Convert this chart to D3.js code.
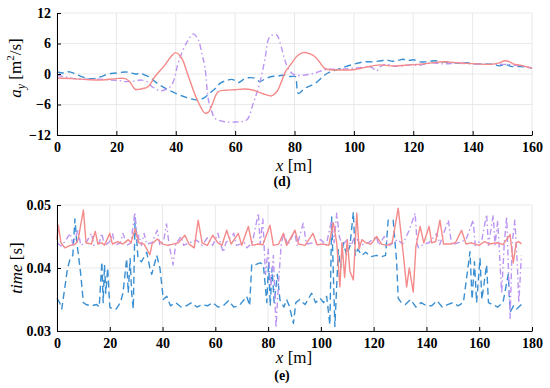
<!DOCTYPE html>
<html><head><meta charset="utf-8">
<script src="https://cdn.jsdelivr.net/npm/d3@7"></script>
<style>html,body{margin:0;padding:0;background:#fff}svg{display:block}</style>
</head><body><svg id="c" width="550" height="388"></svg>
<script>
// ---------- DATA ----------
const xTicksTop = [0,20,40,60,80,100,120,140,160];
const yTicksTop = [-12,-6,0,6,12];
const xTicksBot = [0,20,40,60,80,100,120,140,160,180];
const yTicksBot = [0.03,0.04,0.05];
const yTickLabelsBot = ["0.03","0.04","0.05"];

const ayRed = [[0,-0.8],[5,-0.9],[10,-1.1],[15,-1.2],[20,-0.9],[23,-0.9],[24.5,-1.5],[26.3,-3.0],[28.5,-2.9],[30.7,-2.5],[33,-0.5],[36.4,1.8],[38.5,3.5],[40,4.2],[42,3.1],[44,0],[46.5,-4.1],[48.5,-6.6],[49.8,-7.7],[51,-7.5],[52,-6.4],[54.3,-3.5],[57,-3.2],[60,-3.1],[63.3,-2.95],[65.5,-3.1],[67.7,-3.5],[70,-4.0],[72.3,-4.3],[74,-3.5],[75.6,-1.5],[77,0.5],[79,2.1],[81,3.6],[82.9,4.2],[85,4.0],[86.9,3.4],[88.5,2.3],[90.2,1.1],[92.5,0.8],[96,0.8],[99.2,0.8],[103.7,1.3],[108.8,1.8],[113,1.6],[118.9,1.8],[125,2.1],[130,2.4],[135,2.2],[141.3,2.0],[146,1.9],[149,2.2],[150.8,2.6],[152.5,2.4],[153.6,2.0],[157,1.6],[160,1.1]];
const ayBlue = [[0,0.45],[2,0.2],[3.8,0.45],[6,0.1],[8.3,-0.5],[10.5,-0.9],[12.8,-0.85],[15,-0.5],[17.2,0],[20,0.2],[22.9,0.4],[24.5,0.3],[26.3,0],[28,0.1],[29.6,-0.2],[31.5,-0.7],[33,-1.5],[36.4,-2.8],[40,-3.8],[43.5,-4.6],[46,-5.0],[48,-5.1],[49.8,-4.6],[51.4,-3.8],[53.6,-2.7],[55,-1.8],[57,-1.3],[58.8,-1.05],[60,-1.3],[61,-1.7],[62.5,-1.2],[63.3,-0.85],[66.6,-0.8],[68.3,-1.5],[70,-1.0],[72.3,-0.5],[74.5,-0.4],[76.8,-0.2],[78.5,-0.5],[80.2,-0.5],[81.3,-3.8],[83.5,-2.8],[86.9,-1.85],[90.2,-0.2],[92,0.4],[94.7,0.9],[97,1.4],[99.2,1.8],[101,2.1],[103.7,2.4],[106.5,2.4],[109,2.6],[111,2.75],[113,2.5],[115,2.7],[116.6,2.9],[118,2.6],[120,2.8],[122,2.4],[124.5,2.4],[127,2.6],[130,2.4],[133,2.3],[135.7,2.1],[138,2.2],[141,2.0],[144,2.0],[146.8,1.9],[149,1.6],[151,1.9],[153,1.5],[155.6,1.45],[158,1.4],[160,1.1]];
const ayPurple = [[0,-0.3],[3,-0.6],[6,-0.9],[10.5,-1.0],[14,-1.0],[18.4,-1.2],[21,-1.3],[23.5,-1.5],[26,-1.4],[28.5,-1.2],[30.5,-1.6],[32,-2.5],[33,-2.8],[34.5,-3.3],[36.4,-3.1],[38.6,-2.2],[40.8,2.1],[42.5,4.8],[44.2,6.7],[45.9,7.9],[47.6,6.7],[48.8,4],[49.8,1.45],[51,-5.1],[52,-7.1],[53.2,-8.7],[56.6,-9.4],[61,-9.4],[63.9,-9.05],[66.1,-5.8],[68.4,-1.5],[70,2.75],[71.7,7.35],[74,7.7],[75,6.4],[77.3,1.8],[78.5,0.5],[80.1,-0.2],[83.5,-0.2],[86.9,0.2],[90.8,0.9],[94.7,0.9],[99,1.1],[103.7,1.3],[106,1.3],[107.6,0.6],[109,1.5],[111,1.9],[114,1.5],[118.9,1.8],[122,1.7],[126,2.2],[130,2.0],[135,2.1],[140,2.0],[145,1.9],[150,1.9],[155,1.7],[160,1.2]];

const timeRed = [[0,0.0445],[0.5,0.0468],[1.5,0.0440],[3,0.0432],[5,0.0436],[7,0.0438],[8,0.0445],[10,0.0492],[11,0.0440],[13,0.0438],[14.5,0.0458],[15.5,0.0438],[17,0.0440],[18,0.0436],[20,0.0455],[21,0.0438],[23,0.0442],[25,0.0438],[27,0.0445],[28,0.0440],[29.6,0.0462],[31,0.0440],[33,0.0438],[35.2,0.0421],[36,0.0438],[38,0.0446],[40,0.0438],[42,0.0436],[44,0.0438],[46,0.0440],[48.5,0.0452],[50,0.0438],[52,0.0432],[53.5,0.0476],[55,0.0440],[57,0.0436],[59,0.0452],[61,0.0440],[62.5,0.0436],[64.3,0.0460],[66,0.0438],[68.7,0.0455],[70,0.0436],[72.5,0.0466],[74,0.0436],[76,0.0438],[78,0.0437],[80.7,0.0468],[82,0.0436],[84,0.0438],[85.8,0.0455],[87,0.0436],[90.2,0.0460],[91.5,0.0438],[94,0.0436],[97,0.0455],[98.5,0.0437],[101,0.0438],[103,0.0436],[104.7,0.0472],[106,0.0440],[107.2,0.0370],[108,0.0440],[109,0.0385],[110,0.0445],[111,0.0395],[112.3,0.0381],[113.6,0.0487],[114.5,0.0430],[115.5,0.0445],[117,0.0440],[119,0.0438],[121.1,0.0450],[123,0.0438],[125,0.0436],[127,0.0440],[129.3,0.0495],[131.2,0.0423],[132.5,0.0370],[133.5,0.0400],[135,0.0362],[136,0.0434],[137.6,0.0466],[139,0.0440],[141,0.0466],[142,0.0440],[143.5,0.0442],[145.1,0.0476],[146.5,0.0438],[149,0.0438],[151,0.0440],[153.3,0.0460],[155,0.0438],[157,0.0440],[160,0.0436],[162,0.0442],[164,0.0438],[167,0.0440],[169,0.0437],[171.7,0.0453],[172.9,0.0408],[174,0.0440],[175,0.0442],[176,0.0438]];
const timeBlue = [[0,0.0352],[1,0.0345],[1.8,0.0335],[3,0.0370],[4,0.0400],[5,0.0415],[6,0.0420],[6.8,0.0478],[7.5,0.0440],[8,0.0425],[9,0.0390],[10,0.0345],[11,0.0342],[13,0.0340],[15,0.0342],[16,0.0338],[17,0.0410],[17.5,0.0345],[18,0.0405],[18.5,0.0360],[19.2,0.0400],[20,0.0338],[21,0.0335],[22.5,0.0335],[24,0.0345],[25,0.0360],[26.4,0.0415],[27,0.0360],[27.7,0.0415],[28.3,0.0360],[28.9,0.0335],[29.6,0.0480],[30.7,0.0415],[32,0.0410],[34,0.0425],[35.2,0.0400],[35.9,0.0390],[37.8,0.0420],[39,0.0400],[40.3,0.0350],[41.6,0.0355],[43,0.0340],[45,0.0345],[47,0.0338],[49,0.0340],[51,0.0345],[53,0.0338],[55,0.0342],[57,0.0340],[59,0.0345],[61,0.0338],[63,0.0340],[65,0.0348],[67,0.0338],[69,0.0340],[71.9,0.0355],[73,0.0340],[73.8,0.0406],[75,0.0405],[77,0.0408],[78.2,0.0405],[79.5,0.0345],[80.2,0.0410],[80.8,0.0340],[81.5,0.0400],[82.3,0.0345],[83.5,0.0390],[84.5,0.0349],[86,0.0338],[87,0.0350],[88,0.0340],[89.6,0.0312],[90.5,0.0345],[92,0.0350],[94,0.0342],[96.5,0.0360],[98,0.0345],[99.7,0.0352],[101,0.0345],[102.2,0.0355],[103.4,0.0310],[104.1,0.0481],[105.3,0.0307],[106.6,0.0429],[107.5,0.0400],[108.5,0.0440],[109.8,0.0420],[111,0.0435],[112.3,0.0489],[113,0.0420],[114,0.0430],[115.5,0.0420],[117,0.0425],[119,0.0418],[121.1,0.0420],[123,0.0418],[124.5,0.0420],[125.5,0.0476],[127.4,0.0476],[128.7,0.0410],[129.3,0.0352],[130.5,0.0345],[132,0.0342],[134,0.0350],[136,0.0338],[138,0.0345],[140,0.0340],[142,0.0340],[144,0.0348],[146,0.0338],[148,0.0342],[150,0.0345],[152,0.0340],[154,0.0345],[156.5,0.0426],[157.3,0.0350],[158.2,0.0410],[159,0.0345],[160.3,0.0415],[161,0.0350],[162.8,0.0405],[163.5,0.0345],[165,0.0342],[167,0.0338],[169,0.0345],[171,0.0390],[171.7,0.0330],[173,0.0340],[174.2,0.0335],[176,0.0342]];
const timePurple = [[0,0.0440],[1.5,0.0435],[3,0.0442],[5,0.0455],[6,0.0438],[8,0.0460],[9,0.0436],[11,0.0440],[13,0.0455],[14,0.0436],[16,0.0440],[17,0.0455],[18,0.0435],[20,0.0442],[21,0.0455],[22,0.0436],[24,0.0440],[25,0.0455],[26.5,0.0436],[28,0.0440],[29.5,0.0488],[30.5,0.0440],[31,0.0452],[32,0.0436],[33,0.0455],[34,0.0438],[36,0.0440],[38,0.0460],[39,0.0436],[40.5,0.0445],[41.5,0.0470],[42.5,0.0436],[44,0.0405],[45,0.0438],[47,0.0450],[48,0.0436],[50,0.0440],[53,0.0444],[55,0.0436],[57,0.0448],[59,0.0436],[61,0.0455],[62,0.0438],[63,0.0425],[64,0.0440],[67,0.0455],[68,0.0436],[71,0.0440],[72,0.0432],[74,0.0440],[76.3,0.0487],[77,0.0438],[78,0.0478],[79,0.0390],[80,0.0430],[81,0.0370],[82,0.0420],[83,0.0305],[84,0.0380],[85,0.0440],[86,0.0455],[87.5,0.0436],[90,0.0458],[91,0.0436],[93.3,0.0471],[94.5,0.0438],[97,0.0440],[100,0.0445],[102,0.0436],[104,0.0475],[105,0.0440],[106,0.0487],[107,0.0450],[108,0.0436],[110,0.0445],[111.5,0.0436],[113,0.0452],[115,0.0436],[118,0.0440],[121,0.0450],[122,0.0436],[124,0.0450],[126,0.0436],[129,0.0445],[131,0.0438],[133.5,0.0460],[135.7,0.0487],[136.5,0.0438],[137,0.0432],[139,0.0438],[141,0.0440],[144,0.0455],[145,0.0437],[148.3,0.0476],[149.5,0.0437],[152,0.0440],[155,0.0445],[157.7,0.0476],[158.5,0.0436],[161,0.0445],[162.8,0.0485],[163.5,0.0436],[165.3,0.0484],[166,0.0437],[167,0.0475],[168.5,0.0360],[169.5,0.0440],[170.4,0.0482],[171.7,0.0320],[172.5,0.0440],[173.5,0.0476],[174.5,0.0400],[175,0.0345],[176,0.0420]];

// ---------- STYLE ----------
const RED = "#f48a8a", BLUE = "#3a8fd2", PURPLE = "#bb95f2";
const SERIF = '"Liberation Serif"';
const svg = d3.select("#c");

function panel(opt){
  const g = svg.append("g");
  const x = d3.scaleLinear().domain(opt.xDomain).range([57, 532]);
  const y = d3.scaleLinear().domain(opt.yDomain).range(opt.yRange);
  g.append("g").selectAll("line").data(opt.xTicks).join("line")
    .attr("x1", d=>x(d)).attr("x2", d=>x(d)).attr("y1", opt.yRange[0]).attr("y2", opt.yRange[1])
    .attr("stroke", "#e3e3e3").attr("stroke-width", 0.8);
  g.append("g").selectAll("line").data(opt.yTicks).join("line")
    .attr("y1", d=>y(d)).attr("y2", d=>y(d)).attr("x1", 57).attr("x2", 532)
    .attr("stroke", "#e3e3e3").attr("stroke-width", 0.8);
  const line = d3.line().x(d=>x(d[0])).y(d=>y(d[1])).curve(opt.curve || d3.curveLinear);
  opt.series.forEach(s=>{
    g.append("path").datum(s.data).attr("d", line).attr("fill","none")
      .attr("stroke", s.color).attr("stroke-width", 1.4)
      .attr("stroke-dasharray", s.dash || null).attr("stroke-linejoin","round");
  });
  const xa = g.append("g").attr("transform", `translate(0,${opt.yRange[0]})`)
    .call(d3.axisBottom(x).tickValues(opt.xTicks).tickSizeInner(-4).tickSizeOuter(0).tickPadding(7).tickFormat(d3.format("d")));
  const ya = g.append("g").attr("transform", `translate(57,0)`)
    .call(d3.axisLeft(y).tickValues(opt.yTicks).tickSizeInner(-4).tickSizeOuter(0).tickPadding(6).tickFormat((d,i)=>opt.yLabels[i]));
  [xa, ya].forEach(a=>{
    a.attr("font-family", null).attr("font-size", null);
    a.select(".domain").attr("stroke","#000").attr("stroke-width",1);
    a.selectAll(".tick line").attr("stroke","#000");
    a.selectAll("text").style("font-family", SERIF).style("font-weight","bold").style("font-size", "14px").attr("fill","#000");
  });
  return {x, y, g};
}

panel({xDomain:[0,160], yDomain:[-12,12], yRange:[135,13], xTicks:xTicksTop, yTicks:yTicksTop,
  yLabels: yTicksTop.map(d=> d<0 ? "\u2212"+Math.abs(d) : String(d)), curve: d3.curveCatmullRom,
  series:[{data:ayBlue,color:BLUE,dash:"7,4"},{data:ayPurple,color:PURPLE,dash:"6,3,1.5,3"},{data:ayRed,color:RED}]});

panel({xDomain:[0,180], yDomain:[0.03,0.05], yRange:[331,205], xTicks:xTicksBot, yTicks:yTicksBot,
  yLabels: yTickLabelsBot,
  series:[{data:timeBlue,color:BLUE,dash:"7,4"},{data:timePurple,color:PURPLE,dash:"6,3,1.5,3"},{data:timeRed,color:RED}]});

// ---------- LABELS ----------
function txt(sel){ return sel.style("font-family", SERIF).style("font-size","17px"); }
function xLabel(yy){
  const t = txt(svg.append("text").attr("x", 294).attr("y", yy).attr("text-anchor","middle"));
  t.append("tspan").style("font-style","italic").text("x");
  t.append("tspan").text(" [m]");
}
xLabel(171);
xLabel(363);

const ay = txt(svg.append("text").attr("transform","translate(21,68) rotate(-90)").attr("text-anchor","middle"));
ay.append("tspan").style("font-style","italic").text("a");
ay.append("tspan").style("font-style","italic").style("font-size","12px").attr("dy",4).text("y");
ay.append("tspan").attr("dy",-4).text(" [m");
ay.append("tspan").style("font-size","11px").attr("dy",-7).text("2");
ay.append("tspan").attr("dy",7).text("/s]");

const tl = txt(svg.append("text").attr("transform","translate(22,268) rotate(-90)").attr("text-anchor","middle"));
tl.append("tspan").style("font-style","italic").text("time");
tl.append("tspan").text(" [s]");

svg.append("text").attr("x",282).attr("y",186).attr("text-anchor","middle")
  .style("font-family",SERIF).style("font-weight","bold").style("font-size","14px").text("(d)");
svg.append("text").attr("x",282).attr("y",380).attr("text-anchor","middle")
  .style("font-family",SERIF).style("font-weight","bold").style("font-size","14px").text("(e)");
</script></body></html>
